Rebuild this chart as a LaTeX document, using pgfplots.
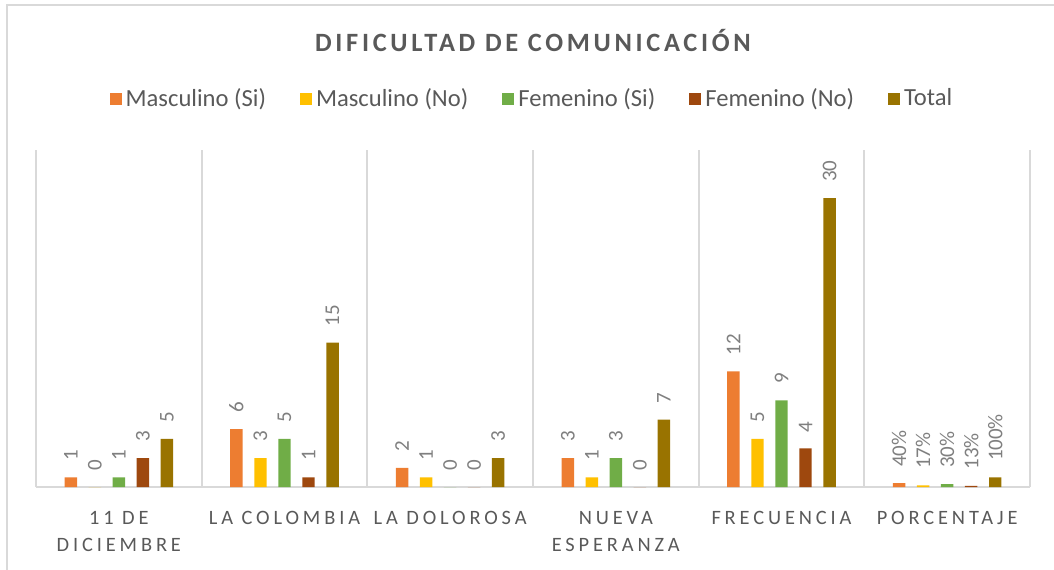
\documentclass[border=0pt]{standalone}
\usepackage{pgfplots}
\pgfplotsset{compat=1.18}
\usepackage{fontspec}
\setmainfont{Carlito}
\newfontfamily\spacedfont[LetterSpace=19]{Carlito}
\newfontfamily\titlefont[LetterSpace=14]{Carlito}
\definecolor{cMsi}{HTML}{ED7D31}
\definecolor{cMno}{HTML}{FFC000}
\definecolor{cFsi}{HTML}{70AD47}
\definecolor{cFno}{HTML}{9E480E}
\definecolor{cTot}{HTML}{997300}
\definecolor{axisgray}{HTML}{595959}
\definecolor{valgray}{HTML}{7F7F7F}
\definecolor{sepgray}{HTML}{D9D9D9}
\pgfplotsset{sqlegend/.style={legend image code/.code={\fill[##1] (0pt,-3pt) rectangle (6pt,3pt);}}}
\begin{document}
\begin{tikzpicture}
\useasboundingbox (-18pt,-41pt) rectangle (509pt,243.5pt);
\begin{axis}[
  scale only axis, width=497pt, height=168.5pt,
  ybar, bar width=0.075,
  xmin=-0.5, xmax=5.5, ymin=0, ymax=35,
  axis x line=bottom, axis y line=none,
  axis line style={draw=sepgray, line width=1pt, -},
  xtick={0,1,2,3,4,5},
  xticklabels={{11 DE\\DICIEMBRE},{LA COLOMBIA},{LA DOLOROSA},{NUEVA\\ESPERANZA},{FRECUENCIA},{PORCENTAJE}},
  xticklabel style={font=\spacedfont\fontsize{10.2}{13.5}\selectfont, text=axisgray, align=center, yshift=-8.5pt},
  major tick length=0pt, minor tick length=0pt,
  minor xtick={-0.5,0.5,1.5,2.5,3.5,4.5,5.5},
  xminorgrids, minor grid style={draw=sepgray, line width=1pt},
  clip=false,
  point meta=explicit symbolic,
  nodes near coords,
  every node near coord/.append style={font=\fontsize{10.5}{12}\selectfont, text=valgray, rotate=90, anchor=west, inner xsep=8pt, inner ysep=0pt},
  title={\titlefont\bfseries DIFICULTAD DE COMUNICACIÓN},
  title style={font=\fontsize{13.2}{16}\selectfont, text=axisgray, at={(0.5,1.288)}, anchor=center},
  legend columns=5,
  legend style={draw=none, fill=none, font=\fontsize{12.3}{14}\selectfont, text=axisgray,
    at={(0.5,1.152)}, anchor=center,
    /tikz/every even column/.append style={column sep=15pt}},
]
\addplot[fill=cMsi, draw=none, bar shift=-0.29, sqlegend] coordinates {
  (0,1) [1] (1,6) [6] (2,2) [2] (3,3) [3] (4,12) [12] (5,0.40) [40\%]
};
\addplot[fill=cMno, draw=none, bar shift=-0.145, sqlegend] coordinates {
  (0,0) [0] (1,3) [3] (2,1) [1] (3,1) [1] (4,5) [5] (5,0.17) [17\%]
};
\addplot[fill=cFsi, draw=none, bar shift=0, sqlegend] coordinates {
  (0,1) [1] (1,5) [5] (2,0) [0] (3,3) [3] (4,9) [9] (5,0.30) [30\%]
};
\addplot[fill=cFno, draw=none, bar shift=0.145, sqlegend] coordinates {
  (0,3) [3] (1,1) [1] (2,0) [0] (3,0) [0] (4,4) [4] (5,0.13) [13\%]
};
\addplot[fill=cTot, draw=none, bar shift=0.29, sqlegend] coordinates {
  (0,5) [5] (1,15) [15] (2,3) [3] (3,7) [7] (4,30) [30] (5,1.00) [100\%]
};
\legend{Masculino (Si), Masculino (No), Femenino (Si), Femenino (No), Total}
\end{axis}
\draw[sepgray, line width=1pt] (-14.5pt,-60pt) -- (-14.5pt,241pt) -- (530pt,241pt);
\end{tikzpicture}
\end{document}
